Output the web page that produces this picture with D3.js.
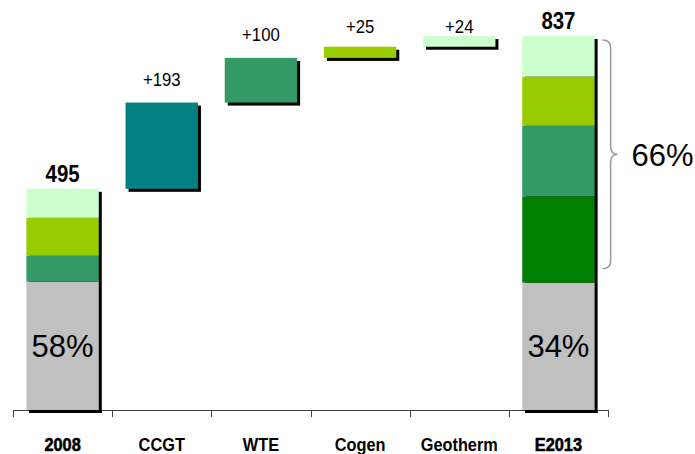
<!DOCTYPE html>
<html>
<head>
<meta charset="utf-8">
<script src="https://cdn.jsdelivr.net/npm/d3@7"></script>
<style>
    body { margin: 0; background: #fff; }
    svg { display: block; font-family: "Liberation Sans", Arial, sans-serif; }
</style>
</head>
<body>
<svg id="chart" width="695" height="454"></svg>
<script>
// categories along the x axis
var categories = ["2008", "CCGT", "WTE", "Cogen", "Geotherm", "E2013"];
// stack segments, bottom to top
var segments = ["Other", "CCGT", "WTE", "Cogen", "Geotherm"];
var segColors = ["#C0C0C0", "#008000", "#339966", "#99CC00", "#CCFFCC"];
var start2008 = [287, 0, 58, 85, 65];
var end2013 = [285, 193, 158, 110, 91];
// waterfall steps
var steps = ["CCGT", "WTE", "Cogen", "Geotherm"];
var increments = [193, 100, 25, 24];
var stepColors = ["#008080", "#339966", "#99CC00", "#CCFFCC"];
var totals = [495, 837];
var otherShare = ["58%", "34%"];
var greenShare = "66%";

var svg = d3.select("#chart");

var x = d3.scaleBand().domain(categories).range([13, 608])
    .paddingInner(0.27).paddingOuter(0.135);
var y = d3.scaleLinear().domain([0, 837]).range([410, 36]);

var bars = svg.append("g");

// stacked bars for 2008 and E2013
function stacked(cat, vals) {
    var total = d3.sum(vals);
    var g = bars.append("g");
    // drop shadow
    g.append("rect")
        .attr("x", x(cat) + 3).attr("y", y(total) + 3)
        .attr("width", x.bandwidth()).attr("height", y(0) - y(total))
        .attr("fill", "#000");
    var acc = 0;
    vals.forEach(function(v, i) {
        if (v > 0) {
            g.append("rect")
                .attr("x", x(cat)).attr("y", y(acc + v))
                .attr("width", x.bandwidth()).attr("height", y(acc) - y(acc + v))
                .attr("fill", segColors[i]);
        }
        acc += v;
    });
}
stacked("2008", start2008);
stacked("E2013", end2013);

// floating waterfall bars
var cum = totals[0];
steps.forEach(function(s, i) {
    var lo = cum, hi = cum + increments[i];
    bars.append("rect")
        .attr("x", x(s) + 3).attr("y", y(hi) + 3)
        .attr("width", x.bandwidth()).attr("height", y(lo) - y(hi))
        .attr("fill", "#000");
    bars.append("rect")
        .attr("x", x(s)).attr("y", y(hi))
        .attr("width", x.bandwidth()).attr("height", y(lo) - y(hi))
        .attr("fill", stepColors[i]);
    // keep labels inside the top of the chart
    var ly = Math.max(y(hi) - 17, 33);
    svg.append("text")
        .attr("transform", "translate(" + (x(s) + x.bandwidth() / 2) + "," + ly + ") scale(0.93,1)")
        .attr("text-anchor", "middle")
        .style("font-size", "18px")
        .text("+" + increments[i]);
    cum = hi;
});

// totals above the stacked bars
[["2008", totals[0]], ["E2013", totals[1]]].forEach(function(d) {
    svg.append("text")
        .attr("transform", "translate(" + (x(d[0]) + x.bandwidth() / 2) + "," + (y(d[1]) - 7) + ") scale(0.85,1)")
        .attr("text-anchor", "middle")
        .style("font-size", "24px").style("font-weight", "bold")
        .text(d[1]);
});

// share of "other" inside the grey segment
[["2008", start2008[0]], ["E2013", end2013[0]]].forEach(function(d, i) {
    svg.append("text")
        .attr("x", x(d[0]) + x.bandwidth() / 2)
        .attr("y", (y(0) + y(d[1])) / 2 + 11)
        .attr("text-anchor", "middle")
        .style("font-size", "31px")
        .text(otherShare[i]);
});

// brace over the green part of E2013
var bTop = y(totals[1]) + 4,
    bBot = y(end2013[0]) - 14,
    bMid = (bTop + bBot) / 2,
    bx0 = x("E2013") + x.bandwidth() + 8,
    bx1 = bx0 + 8, bx2 = bx0 + 15, br = 8;
var brace = d3.path();
brace.moveTo(bx0, bTop);
brace.quadraticCurveTo(bx1, bTop, bx1, bTop + br);
brace.lineTo(bx1, bMid - br);
brace.quadraticCurveTo(bx1, bMid, bx2, bMid);
brace.quadraticCurveTo(bx1, bMid, bx1, bMid + br);
brace.lineTo(bx1, bBot - br);
brace.quadraticCurveTo(bx1, bBot, bx0, bBot);
svg.append("path")
    .attr("d", brace.toString())
    .attr("fill", "none").attr("stroke", "#999").attr("stroke-width", 1.5);
svg.append("text")
    .attr("x", bx2 + 14).attr("y", bMid + 12)
    .style("font-size", "31px")
    .text(greenShare);

// x axis with ticks between categories
var axis = svg.append("g").attr("stroke", "#404040").attr("stroke-width", 1);
var r0 = x.range()[0], r1 = x.range()[1];
axis.append("line").attr("x1", r0).attr("x2", r1).attr("y1", y(0) + 0.5).attr("y2", y(0) + 0.5);
d3.range(categories.length + 1).forEach(function(i) {
    var tx = Math.round(r0 + i * x.step()) + 0.5;
    axis.append("line").attr("x1", tx).attr("x2", tx).attr("y1", y(0)).attr("y2", y(0) + 7);
});

// redraw the shadow base over the axis line
svg.selectAll(null).data(["2008", "E2013"]).enter().append("rect")
    .attr("x", function(d) { return x(d) + 3; }).attr("y", y(0))
    .attr("width", x.bandwidth()).attr("height", 3).attr("fill", "#000");

svg.selectAll(".cat").data(categories).enter().append("text")
    .attr("class", "cat")
    .attr("transform", function(d) { return "translate(" + (x(d) + x.bandwidth() / 2) + ",451) scale(0.86,1)"; })
    .attr("text-anchor", "middle")
    .style("font-size", "19px").style("font-weight", "bold")
    .attr("stroke", function(d, i) { return (i === 0 || i === categories.length - 1) ? "#000" : "none"; })
    .attr("stroke-width", 0.6)
    .text(function(d) { return d; });
</script>
</body>
</html>
